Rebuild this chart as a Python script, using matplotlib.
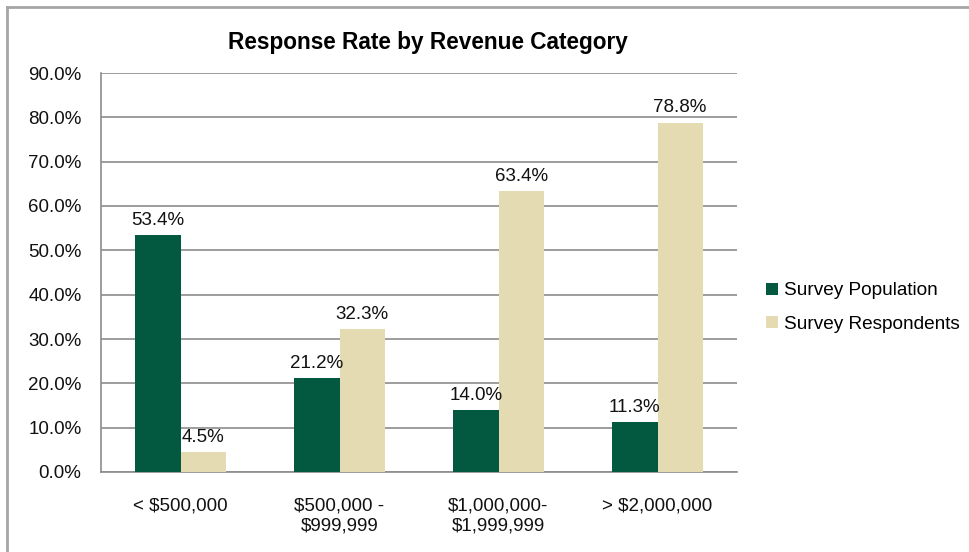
import matplotlib
matplotlib.use("Agg")
import matplotlib.pyplot as plt
from matplotlib.lines import Line2D
import numpy as np

categories = ["< $500,000", "$500,000 -\n$999,999", "$1,000,000-\n$1,999,999", "> $2,000,000"]
population = [53.4, 21.2, 14.0, 11.3]
respondents = [4.5, 32.3, 63.4, 78.8]
series_names = ["Survey Population", "Survey Respondents"]
yticks = [0, 10, 20, 30, 40, 50, 60, 70, 80, 90]

green = "#035940"
beige = "#E5DBB2"
grid_c = "#8C8C8C"

plt.rcParams['font.family'] = ['Liberation Sans', 'DejaVu Sans']

W, H = 969, 552
fig = plt.figure(figsize=(W / 100, H / 100), dpi=100)
ax = fig.add_axes([101 / W, 1 - 472 / H, (737 - 101) / W, (472 - 73) / H])

x = np.arange(len(categories))
bw = 0.285
b1 = ax.bar(x - bw / 2, population, bw, color=green, label=series_names[0], zorder=3)
b2 = ax.bar(x + bw / 2, respondents, bw, color=beige, label=series_names[1], zorder=3)

fs = 13.5
for bars, vals in ((b1, population), (b2, respondents)):
    for rect, v in zip(bars, vals):
        ax.annotate(f"{v:.1f}%", (rect.get_x() + rect.get_width() / 2, v),
                    xytext=(0, 4.5), textcoords="offset points",
                    ha="center", va="bottom", fontsize=fs, color="#111111")

ax.set_xlim(-0.5, len(categories) - 0.5)
ax.set_ylim(0, 90)
ax.set_yticks(yticks)
ax.set_yticklabels([f"{t:.1f}%" for t in yticks], fontsize=fs)
ax.set_xticks(x)
ax.set_xticklabels(categories, fontsize=fs, linespacing=1.2)
ax.tick_params(axis="both", length=0, colors="#111111")
ax.tick_params(axis="x", pad=18.5)
ax.tick_params(axis="y", pad=14)
ax.grid(axis="y", color=grid_c, linewidth=1.2, zorder=0)
for s in ("top", "right"):
    ax.spines[s].set_visible(False)
for s in ("left", "bottom"):
    ax.spines[s].set_color(grid_c)
    ax.spines[s].set_linewidth(1.2)

fig.text(428 / W, 1 - 43 / H, "Response Rate by Revenue Category",
         ha="center", va="center", fontsize=16.3, fontweight="bold")

leg = fig.legend(handles=[b1, b2], loc="center left",
                 bbox_to_anchor=(749 / W, 1 - 307.5 / H), frameon=False,
                 fontsize=13.7, handlelength=0.6, handleheight=0.6,
                 handletextpad=0.35, labelspacing=0.85)

fig.add_artist(Line2D([7 / W, 7 / W], [0, 1 - 7 / H], color="#A6A6A6", lw=2,
                      transform=fig.transFigure))
fig.add_artist(Line2D([7 / W, 1], [1 - 7 / H, 1 - 7 / H], color="#A6A6A6", lw=2,
                      transform=fig.transFigure))

fig.savefig("out.png", dpi=100, facecolor="white")
